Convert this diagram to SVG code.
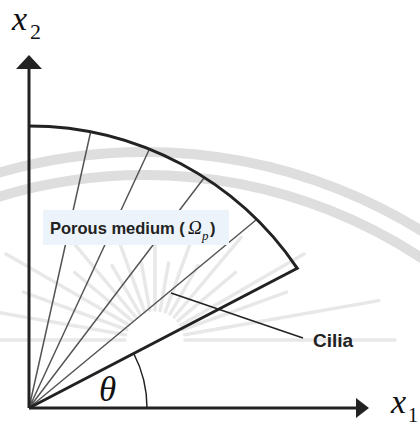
<svg xmlns="http://www.w3.org/2000/svg" width="420" height="425" viewBox="0 0 420 425">
<style>
.wm{fill:none;stroke:#dedede;stroke-width:10}
.wr{fill:none;stroke:#e8e8e8;stroke-width:3.5;stroke-linecap:round}
.axis{fill:none;stroke:#222;stroke-width:3}
.ray{fill:none;stroke:#555;stroke-width:1.5}
.bold{font-family:"Liberation Sans",Arial,sans-serif;font-weight:bold;fill:#222}
.math{font-family:"Liberation Serif","Times New Roman",serif;font-style:italic;fill:#111}
.up{font-family:"Liberation Serif","Times New Roman",serif;fill:#111}
</style>
<rect width="420" height="425" fill="#fff"/>
<g id="watermark">
<circle class="wm" cx="145" cy="676" r="524"/>
<circle class="wm" cx="145" cy="676" r="501"/>
<path class="wr" d="M185,340L395,340M184.5,334.8L378.6,300.6M183.2,329.7L286.6,292.1M181,325L304,254M178,320.7L235.4,272.5M174.3,317L241.1,237.4M170,314L198,265.5M165.3,311.8L194.5,231.5M160.2,310.5L168.5,263.2M155,310L155,230M149.8,310.5L141.5,263.2M144.7,311.8L115.5,231.5M140,314L112,265.5M135.7,317L68.9,237.4M132,320.7L74.6,272.5M129,325L6,254M126.8,329.7L23.4,292.1M125.5,334.8L-68.6,300.6M125,340L-13,340"/>
</g>
<g id="cilia-rays">
<path class="ray" d="M29,408L90.5,132.5M29,408L149,150M29,408L204,178M29,408L256,220"/>
</g>
<g id="label-porous">
<rect x="43" y="210" width="186" height="35" fill="#edf3fa"/>
<text class="bold" x="50" y="234" font-size="16.5">Porous medium (</text>
<text class="math" x="188" y="234" font-size="19">Ω</text>
<text class="math" x="202" y="240" font-size="13">p</text>
<text class="bold" x="210" y="234" font-size="16.5">)</text>
</g>
<g id="domain">
<path class="axis" d="M29,126A324,324 0 0 1 297.3,268.3L29,408"/>
</g>
<g id="axes">
<path class="axis" d="M29,408V69M29,408H357"/>
<polygon points="16,69 42,69 29,55" fill="#222"/>
<polygon points="356,398 356,418 369,408" fill="#222"/>
</g>
<g id="angle">
<path d="M147,408A118,118 0 0 0 133.7,353.5" fill="none" stroke="#222" stroke-width="1.5"/>
<text class="math" x="99" y="401" font-size="35">θ</text>
</g>
<g id="connectors">
<line x1="171" y1="293" x2="303" y2="338" stroke="#222" stroke-width="1.5"/>
</g>
<g id="label-cilia">
<text class="bold" x="313" y="347" font-size="19">Cilia</text>
</g>
<g id="label-x2">
<text class="math" x="12" y="30" font-size="34">x</text>
<text class="up" x="30" y="39" font-size="22">2</text>
</g>
<g id="label-x1">
<text class="math" x="391" y="413" font-size="34">x</text>
<text class="up" x="408" y="422" font-size="20">1</text>
</g>
</svg>
